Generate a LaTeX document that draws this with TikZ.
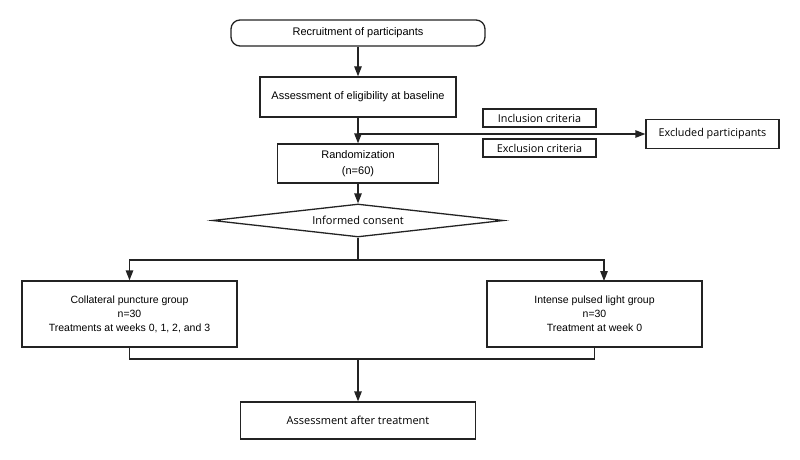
\documentclass[tikz,border=0pt]{standalone}
\usepackage{fontspec}
\setmainfont{Liberation Sans}
\newfontfamily\softfont{Open Sans}
\usetikzlibrary{shapes.geometric, arrows.meta, positioning, calc}
\definecolor{linegray}{RGB}{35, 35, 35}

\begin{document}
\begin{tikzpicture}[x=1pt, y=-1pt,
    box/.style={draw=linegray, line width=1.3pt, inner sep=0pt, align=center,
      font=\fontsize{11}{15.5}\selectfont},
    softbox/.style={box, font=\softfont\fontsize{10.8}{13}\selectfont},
    groupbox/.style={box, minimum width=215pt, minimum height=66pt,
      font=\fontsize{10.5}{14}\selectfont},
    flow/.style={-{Triangle[length=10pt, width=7.5pt]}, draw=linegray, line width=1.3pt},
    link/.style={draw=linegray, line width=1.3pt}]
        \useasboundingbox (0,0) rectangle (800,460);

        \node[box, rounded corners=9pt, minimum width=254pt, minimum height=26pt]
          (recruit) at (358, 33) {Recruitment of participants};
        \node[box, minimum width=196pt, minimum height=40pt]
          (assess) at (358, 97) {Assessment of eligibility at baseline};
        \node[box, minimum width=161pt, minimum height=39pt]
          (random) at (358, 163.5) {Randomization\\(n=60)};

        \node[softbox, minimum width=113pt, minimum height=18pt]
          (incl) at (539.5, 118) {Inclusion criteria};
        \node[softbox, minimum width=113pt, minimum height=18pt]
          (excl) at (539.5, 148) {Exclusion criteria};
        \node[softbox, minimum width=133pt, minimum height=29pt]
          (excluded) at (712.5, 134) {Excluded participants};

        \node[draw=linegray, line width=1.3pt, diamond, aspect=8.8, inner sep=0pt,
              minimum width=291pt, minimum height=33pt,
              font=\softfont\fontsize{11}{13}\selectfont]
          (consent) at (358, 220.5) {Informed consent};

        \node[groupbox] (collateral) at (129.5, 314)
          {Collateral puncture group\\n=30\\Treatments at weeks 0, 1, 2, and 3};
        \node[groupbox] (ipl) at (594.5, 314)
          {Intense pulsed light group\\n=30\\Treatment at week 0};

        \node[softbox, minimum width=235pt, minimum height=37pt,
              font=\softfont\fontsize{11}{13}\selectfont]
          (final) at (358, 420.5) {Assessment after treatment};

        \coordinate (branch) at (358, 134);
        \coordinate (split) at (358, 260);
        \coordinate (ipltop) at (604, 281);
        \coordinate (merge) at (358, 359);

        \draw[flow] (recruit) -- (assess);
        \draw[flow] (assess) -- (random);
        \draw[flow] (branch) -- (excluded);
        \draw[flow] (random) -- (consent);

        \draw[link] (consent) -- (split);
        \draw[flow] (split) -| (collateral);
        \draw[flow] (split) -| (ipltop);

        \draw[link] (collateral.south) |- (merge);
        \draw[link] (ipl.south) |- (merge);
        \draw[flow] (merge) -- (final);
      \end{tikzpicture}
\end{document}
